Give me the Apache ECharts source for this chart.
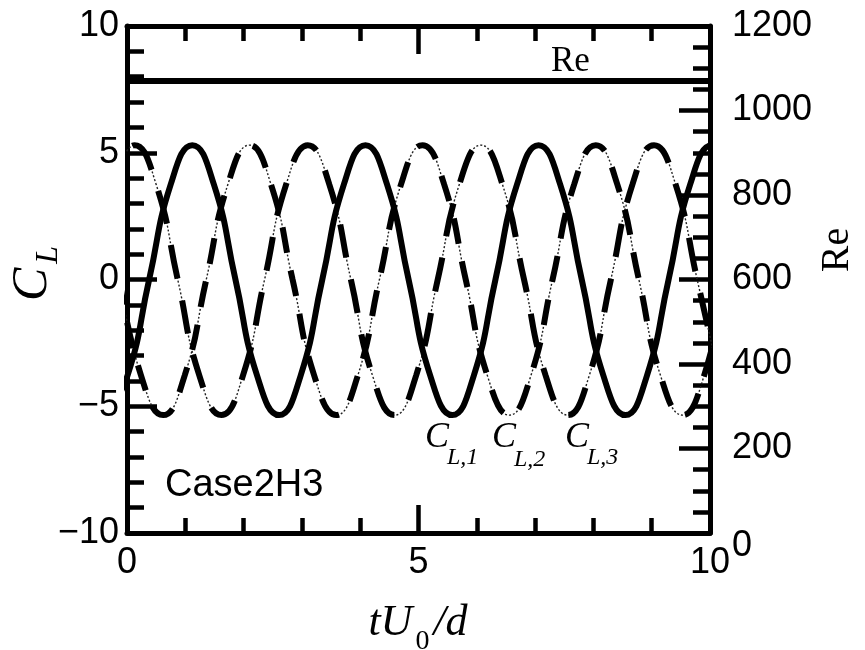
<!DOCTYPE html>
<html>
<head>
<meta charset="utf-8">
<script src="https://cdn.jsdelivr.net/npm/echarts@6/dist/echarts.min.js"></script>
<style>
  html, body { margin: 0; padding: 0; background: #fff; }
  #chart { width: 865px; height: 650px; }
</style>
</head>
<body>
<div id="chart"></div>
<script>
// Lift-coefficient histories of the three cylinders (time tU0/d, C_L).
// Points are taken at peaks, troughs, zero crossings and the quarter points between.
const tCL1 = [-0.37, 0.01, 0.38, 0.75, 1.12, 1.49, 1.86, 2.23, 2.61, 2.98, 3.35, 3.72, 4.09, 4.46, 4.83,
              5.20, 5.58, 5.95, 6.32, 6.69, 7.06, 7.43, 7.80, 8.17, 8.55, 8.92, 9.29, 9.66, 10.03, 10.40];
const cl1  = [-5.35, -3.78, 0, 3.75, 5.3, 3.75, 0, -3.78, -5.35, -3.78, 0, 3.75, 5.3, 3.75, 0,
              -3.78, -5.35, -3.78, 0, 3.75, 5.3, 3.75, 0, -3.78, -5.35, -3.78, 0, 3.75, 5.3, 3.75];

const tCL2 = [-0.13, 0.24, 0.62, 0.99, 1.36, 1.73, 2.10, 2.47, 2.84, 3.21, 3.59, 3.96, 4.33, 4.70, 5.07,
              5.44, 5.81, 6.18, 6.56, 6.93, 7.30, 7.67, 8.04, 8.41, 8.78, 9.15, 9.53, 9.90, 10.27];
const cl2  = [0, -3.78, -5.35, -3.78, 0, 3.75, 5.3, 3.75, 0, -3.78, -5.35, -3.78, 0, 3.75, 5.3,
              3.75, 0, -3.78, -5.35, -3.78, 0, 3.75, 5.3, 3.75, 0, -3.78, -5.35, -3.78, 0];

const tCL3 = [-0.24, 0.13, 0.50, 0.87, 1.24, 1.62, 1.99, 2.36, 2.73, 3.10, 3.47, 3.84, 4.21, 4.59, 4.96,
              5.33, 5.70, 6.07, 6.44, 6.81, 7.18, 7.56, 7.93, 8.30, 8.67, 9.04, 9.41, 9.78, 10.15];
const cl3  = [3.75, 5.3, 3.75, 0, -3.78, -5.35, -3.78, 0, 3.75, 5.3, 3.75, 0, -3.78, -5.35, -3.78,
              0, 3.75, 5.3, 3.75, 0, -3.78, -5.35, -3.78, 0, 3.75, 5.3, 3.75, 0, -3.78];

// Reynolds number (right axis), constant over the run
const tRe = [0, 10];
const reValues = [1070, 1070];

// axis ranges and tick steps
const xRange = [0, 10], xStep = 5;
const clRange = [-10, 10], clStep = 5;
const reRange = [0, 1200], reStep = 200;

const SANS = '"Liberation Sans", Arial, sans-serif';
const SERIF = '"Liberation Serif", "Times New Roman", serif';
const INK = '#000';

const pairs = (xs, ys) => xs.map((x, i) => [x, ys[i]]);
const minusSign = v => (v < 0 ? '\u2212' + (-v) : String(v));

function frameX(position, showLabels) {
  return {
    type: 'value', position, min: xRange[0], max: xRange[1], interval: xStep,
    axisLine: { show: true, onZero: false, lineStyle: { color: INK, width: 5 } },
    axisTick: { show: true, inside: true, length: 28, lineStyle: { color: INK, width: 4.5 } },
    minorTick: { show: true, splitNumber: 5, length: 15, lineStyle: { color: INK, width: 4.5 } },
    splitLine: { show: false }, minorSplitLine: { show: false },
    axisLabel: { show: showLabels, color: INK, fontSize: 36, fontFamily: SANS, margin: 12 }
  };
}

// text pieces placed by baseline, for sub-scripted titles
const mctx = document.createElement('canvas').getContext('2d');
function fontOf(size, style) { return (style ? style + ' ' : '') + size + 'px ' + SERIF; }
function widthOf(str, size, style) { mctx.font = fontOf(size, style); return mctx.measureText(str).width; }
function piece(str, x, baseline, size, style, family) {
  return {
    type: 'text', x, y: baseline - 0.3 * size, silent: true,
    style: { text: str, font: (style ? style + ' ' : '') + size + 'px ' + (family || SERIF),
             fill: INK, align: 'left', verticalAlign: 'middle' }
  };
}
function subLabel(main, sub, x, baseline, mainSize, subSize, drop, subStyle, gap) {
  const w = widthOf(main, mainSize, 'italic');
  return [piece(main, x, baseline, mainSize, 'italic'),
          piece(sub, x + w + (gap === undefined ? -2 : gap), baseline + drop, subSize, subStyle)];
}

// x-axis title  tU0/d
function xTitle(cx, baseline) {
  const gapA = 3, gapB = 4;
  const w1 = widthOf('tU', 44, 'italic'), w2 = widthOf('0', 28, ''), w3 = widthOf('/d', 44, 'italic');
  const total = w1 + gapA + w2 + gapB + w3;
  const x0 = cx - total / 2;
  return [piece('tU', x0, baseline, 44, 'italic'),
          piece('0', x0 + w1 + gapA, baseline + 13, 28, ''),
          piece('/d', x0 + w1 + gapA + w2 + gapB, baseline, 44, 'italic')];
}

const graphics = [].concat(
  xTitle(418, 637),
  [{ type: 'group', x: 48, y: 301, rotation: Math.PI / 2,
     children: subLabel('C', 'L', 0, 0, 50, 32, 10, 'italic', 4) }],
  [{ type: 'group', x: 837, y: 250, rotation: Math.PI / 2,
     children: [{ type: 'text', x: 0, y: 0, silent: true,
                  style: { text: 'Re', font: '40px ' + SERIF, fill: INK, align: 'center', verticalAlign: 'middle' } }] }],
  [piece('Re', 551, 72, 35, '')],
  subLabel('C', 'L,1', 425, 448, 36, 24, 17, 'italic'),
  subLabel('C', 'L,2', 492, 448, 36, 24, 19, 'italic'),
  subLabel('C', 'L,3', 565, 448, 36, 24, 17, 'italic'),
  [piece('Case2H3', 165, 497, 38, '', SANS)]
);

const thin = { color: '#222', width: 1.4, type: [2, 2] };
const base = { type: 'line', showSymbol: false, symbol: 'none', smooth: true, silent: true,
               animation: false, emphasis: { disabled: true }, clip: true };

const option = {
  animation: false,
  backgroundColor: '#fff',
  grid: { left: 127, right: 155, top: 26, bottom: 117, containLabel: false, outerBoundsMode: 'none' },
  xAxis: [frameX('bottom', true), frameX('top', false)],
  yAxis: [
    {
      type: 'value', position: 'left', min: clRange[0], max: clRange[1], interval: clStep,
      axisLine: { show: true, onZero: false, lineStyle: { color: INK, width: 5 } },
      axisTick: { show: true, inside: true, length: 30, lineStyle: { color: INK, width: 4.5 } },
      minorTick: { show: true, splitNumber: 5, length: 17, lineStyle: { color: INK, width: 4.5 } },
      splitLine: { show: false }, minorSplitLine: { show: false },
      axisLabel: { color: INK, fontSize: 36, fontFamily: SANS, margin: 8, formatter: minusSign }
    },
    {
      type: 'value', position: 'right', min: reRange[0], max: reRange[1], interval: reStep,
      axisLine: { show: true, onZero: false, lineStyle: { color: INK, width: 5 } },
      axisTick: { show: true, inside: true, length: 31, lineStyle: { color: INK, width: 4.5 } },
      minorTick: { show: true, splitNumber: 4, length: 17, lineStyle: { color: INK, width: 4.5 } },
      splitLine: { show: false }, minorSplitLine: { show: false },
      axisLabel: {
        color: INK, fontSize: 36, fontFamily: SANS, margin: 22,
        // the zero label sits a little lower, clear of the x-axis "10"
        formatter: v => (v === reRange[0] ? '{low|' + v + '}' : String(v)),
        rich: { low: { fontSize: 36, fontFamily: SANS, color: INK, padding: [26, 0, 0, 0] } }
      }
    }
  ],
  series: [
    Object.assign({}, base, { name: 'CL2 trace', data: pairs(tCL2, cl2), lineStyle: thin, z: 2 }),
    Object.assign({}, base, { name: 'CL2', data: pairs(tCL2, cl2),
      lineStyle: { color: INK, width: 6, type: [26, 18], cap: 'butt' }, z: 3 }),
    Object.assign({}, base, { name: 'CL3 trace', data: pairs(tCL3, cl3), lineStyle: thin, z: 2 }),
    Object.assign({}, base, { name: 'CL3', data: pairs(tCL3, cl3),
      lineStyle: { color: INK, width: 6, type: [34, 22], dashOffset: 12, cap: 'butt' }, z: 3 }),
    Object.assign({}, base, { name: 'CL1', data: pairs(tCL1, cl1),
      lineStyle: { color: INK, width: 6 }, z: 4 }),
    Object.assign({}, base, { name: 'Re', yAxisIndex: 1, smooth: false, data: pairs(tRe, reValues),
      lineStyle: { color: INK, width: 6 }, z: 4 })
  ],
  graphic: graphics
};

const chart = echarts.init(document.getElementById('chart'), null, { renderer: 'canvas' });
chart.setOption(option);
</script>
</body>
</html>
